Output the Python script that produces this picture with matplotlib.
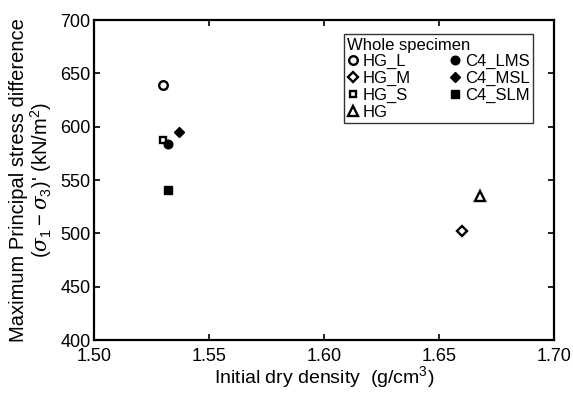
import matplotlib
matplotlib.use("Agg")
import matplotlib.pyplot as plt

plt.rcParams['font.family'] = ['Liberation Sans', 'DejaVu Sans']
plt.rcParams['mathtext.fontset'] = 'custom'
plt.rcParams['mathtext.rm'] = 'Liberation Sans'
plt.rcParams['mathtext.it'] = 'DejaVu Serif:italic'

labels = ["HG_L", "HG_M", "HG_S", "HG", "C4_LMS", "C4_MSL", "C4_SLM"]
density = [1.530, 1.660, 1.530, 1.668, 1.532, 1.537, 1.532]
stress = [639, 502, 588, 535, 584, 595, 541]
markers = ["o", "D", "s", "^", "o", "D", "s"]
filled = [False, False, False, False, True, True, True]
sizes = [6.2, 5.0, 5.0, 6.5, 6.2, 5.2, 5.4]

xticks = [1.50, 1.55, 1.60, 1.65, 1.70]
yticks = [400, 450, 500, 550, 600, 650, 700]

fig = plt.figure(figsize=(5.73, 3.94), dpi=100)
ax = fig.add_axes([0.164, 0.137, 0.803, 0.812])

for lab, x, y, m, f, s in zip(labels, density, stress, markers, filled, sizes):
    ax.plot([x], [y], linestyle='none', marker=m, markersize=s,
            markerfacecolor='black' if f else 'white',
            markeredgecolor='black', markeredgewidth=1.0 if f else 1.7,
            label=lab)

ax.set_xlim(1.50, 1.70)
ax.set_ylim(400, 700)
ax.set_xticks(xticks)
ax.set_xticklabels([f"{v:.2f}" for v in xticks])
ax.set_yticks(yticks)
ax.set_yticklabels([str(v) for v in yticks])
ax.tick_params(direction='in', length=4.5, width=1.2, top=True, right=True,
               labelsize=13)
ax.tick_params(axis='x', pad=6)
ax.tick_params(axis='y', pad=2.5)
for sp in ax.spines.values():
    sp.set_linewidth(1.6)

ax.set_xlabel("Initial dry density  (g/cm$^3$)", fontsize=14, labelpad=-1)
ax.set_ylabel("Maximum Principal stress difference\n($\\mathit{\\sigma}_1-\\mathit{\\sigma}_3$)' (kN/m$^2$)",
              fontsize=14.5, linespacing=1.0)
ax.yaxis.set_label_coords(-0.087, 0.5)

leg = ax.legend(ncol=2, title="Whole specimen", loc='upper right',
                bbox_to_anchor=(0.954, 0.956), fontsize=12, title_fontsize=12,
                frameon=True, fancybox=False, edgecolor='black',
                handlelength=0.7, handletextpad=0.25, columnspacing=2.3,
                labelspacing=0.1, borderpad=0.2, borderaxespad=0.0)
leg._legend_box.align = "left"
leg.get_frame().set_linewidth(1.0)

fig.savefig("out.png", dpi=100)
